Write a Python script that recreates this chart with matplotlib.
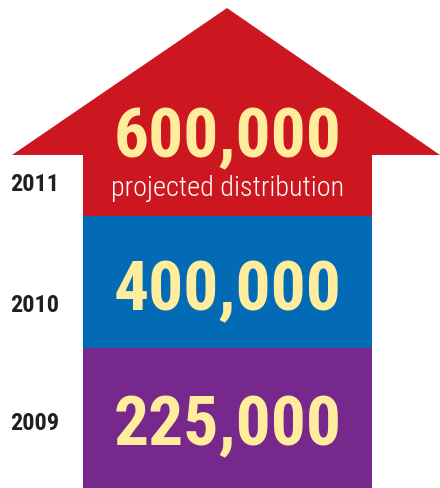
import matplotlib
matplotlib.use("Agg")
import matplotlib.pyplot as plt
from matplotlib import font_manager as fm
from matplotlib.patches import Polygon

# data
years = ["2009", "2010", "2011"]
values = ["225,000", "400,000", "600,000"]
notes = ["", "", "projected distribution"]
colors = ["#76288C", "#036BB5", "#CC1620"]

# layout (pixel space, y grows downward)
W, H = 440, 489
block_left, block_right = 83, 372
block_edges = [489, 349, 217, 156]   # bottoms/tops of the three blocks
head_left, head_right, head_tip = 12, 440, 9

# condensed face if there is one, otherwise shrink the default
try:
    fm.findfont(fm.FontProperties(family="Roboto Condensed"), fallback_to_default=False)
    fam, k = "Roboto Condensed", 1.0
except ValueError:
    fam, k = "DejaVu Sans", 0.72
plt.rcParams['font.family'] = [fam, 'DejaVu Sans']

fig = plt.figure(figsize=(W / 100, H / 100), dpi=100)
ax = fig.add_axes([0, 0, 1, 1])
ax.set_xlim(0, W)
ax.set_ylim(H, 0)
ax.axis("off")

xc = (block_left + block_right) / 2
for i in range(len(years)):
    bottom = block_edges[i]
    top = block_edges[i + 1]
    ax.bar(xc, top - bottom, bottom=bottom, width=block_right - block_left,
           color=colors[i], edgecolor="none")

# arrow head
head = Polygon([(head_left, block_edges[-1]), (head_right, block_edges[-1]),
                ((head_left + head_right) / 2 + 1, head_tip)],
               closed=True, facecolor=colors[-1], edgecolor="none")
ax.add_patch(head)

# baselines
value_y = [445, 310, 157]
year_y = [430, 312, 191]
for i in range(len(years)):
    ax.text(xc, value_y[i], values[i], ha="center", va="baseline",
            fontsize=50 * k, fontweight="bold", color="#FFEC9C")
    ax.text(10, year_y[i], years[i], ha="left", va="baseline",
            fontsize=17.5 * k, fontweight="bold", color="#231F20")
    if notes[i]:
        ax.text(xc, 196, notes[i], ha="center", va="baseline",
                fontsize=20.3 * k, fontweight="light", color="white")

plt.savefig("out.png", dpi=100)
